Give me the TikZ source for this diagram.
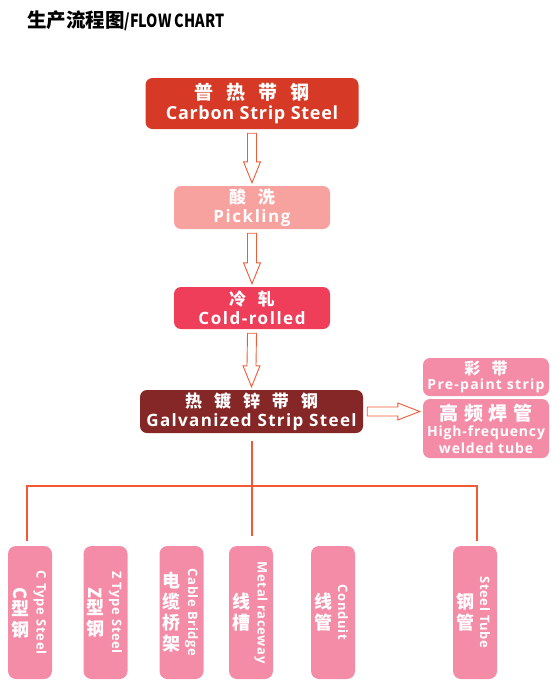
\documentclass[tikz,border=0pt]{standalone}
\usepackage{fontspec}
\usepackage{graphicx}
\setmainfont{Open Sans}
\newfontfamily\cjk{Noto Sans CJK SC}
\usetikzlibrary{calc}

\definecolor{carbonred}{HTML}{D63A26}
\definecolor{picklepink}{HTML}{F7A29F}
\definecolor{coldred}{HTML}{EF3E59}
\definecolor{galvbrown}{HTML}{862727}
\definecolor{productpink}{HTML}{F48CA7}
\definecolor{lineorange}{HTML}{F15A35}

% chinese line: [gap] {size} {text}
\newcommand\cn[3][.7em]{{\cjk\fontsize{#2}{#2}\selectfont\spaceskip=#1\relax #3}}
% english text: {size} {line skip} {letter space}
\newcommand\en[3]{\bfseries\fontsize{#1}{#2}\selectfont\addfontfeature{LetterSpace=#3}}

\newcommand\blockdown[2]{%
\draw [hollow] ($(#1.south)+(-4.5,4)$) -- ($(#2.north)+(-4.5,-24)$) -- ($(#2.north)+(-8.5,-24)$)
 -- ($(#2.north)+(0,-3)$) -- ($(#2.north)+(8.5,-24)$) -- ($(#2.north)+(4.5,-24)$) -- ($(#1.south)+(4.5,4)$) -- cycle;}

\tikzset{
stage/.style={rounded corners=7pt, text=white, align=center, inner sep=0pt},
product/.style={rounded corners=8pt, fill=productpink, minimum width=44, minimum height=133},
cncol/.style={text=white, align=center, inner sep=0pt, font=\cjk\bfseries\fontsize{18}{21}\selectfont},
encol/.style={text=white, rotate=-90, inner sep=0pt, font=\en{13}{15}{5}},
hollow/.style={draw=lineorange, fill=white, line width=0.9pt},
branch/.style={draw=lineorange, line width=2pt}
}

\begin{document}
\begin{tikzpicture}[x=1pt,y=-1pt]
\useasboundingbox (0,0) rectangle (558,694);

\node [anchor=west, inner sep=0pt, font=\cjk\bfseries\fontsize{19.5}{20}\selectfont] (title) at (27,21) {生产流程图{\fontsize{18}{20}\selectfont\scalebox{0.8}[1]{/FLOW CHART}}};

\node [stage, fill=carbonred, minimum width=213, minimum height=51, font=\en{18}{20}{4}] (carbon) at (252,103.5) {\cn{19}{普 热 带 钢}\\Carbon Strip Steel};
\node [stage, fill=picklepink, minimum width=156, minimum height=43, font=\en{17}{19}{9}] (pickling) at (252,207.5) {\cn{17}{酸 洗}\\Pickling};
\node [stage, fill=coldred, minimum width=156, minimum height=42, font=\en{17}{19}{9}] (cold) at (252,308) {\cn{17}{冷 轧}\\Cold-rolled};
\node [stage, fill=galvbrown, minimum width=223, minimum height=43, font=\en{17}{19}{8}] (galv) at (251.5,411.5) {\cn{17}{热 镀 锌 带 钢}\\Galvanized Strip Steel};

\node [stage, fill=productpink, minimum width=126, minimum height=38, font=\en{14}{15}{9}] (prepaint) at (486,377) {\cn{16}{彩 带}\\Pre-paint strip};
\node [stage, fill=productpink, minimum width=126, minimum height=59, font=\en{14}{16.5}{6}] (hfweld) at (486,428.5) {\cn[.3em]{19}{高 频 焊 管}\\High-frequency\\welded tube};

\blockdown{carbon}{pickling}
\blockdown{pickling}{cold}
\blockdown{cold}{galv}
\draw [hollow] ($(galv.east)+(4,-4.5)$) -- ($(galv.east -| hfweld.west)+(-25,-4.5)$) -- ($(galv.east -| hfweld.west)+(-25,-8.5)$)
 -- ($(galv.east -| hfweld.west)+(-3,0)$) -- ($(galv.east -| hfweld.west)+(-25,8.5)$) -- ($(galv.east -| hfweld.west)+(-25,4.5)$) -- ($(galv.east)+(4,4.5)$) -- cycle;

\node [product] (ctype) at (30,612.5) {};
\node [product] (ztype) at (105.5,612.5) {};
\node [product] (cable) at (181.5,612.5) {};
\node [product] (raceway) at (251,612.5) {};
\node [product] (conduit) at (333,612.5) {};
\node [product] (tube) at (475,612.5) {};

\node [cncol] (ctype-cn) at ($(ctype.center)+(-10,0)$) {\rotatebox{-90}{C}\\型\\钢};
\node [encol] (ctype-en) at ($(ctype.center)+(10,0)$) {C Type Steel};
\node [cncol] (ztype-cn) at ($(ztype.center)+(-10,0)$) {\rotatebox{-90}{Z}\\型\\钢};
\node [encol] (ztype-en) at ($(ztype.center)+(10,0)$) {Z Type Steel};
\node [cncol] (cable-cn) at ($(cable.center)+(-10,0)$) {电\\缆\\桥\\架};
\node [encol] (cable-en) at ($(cable.center)+(10,0)$) {Cable Bridge};
\node [cncol] (raceway-cn) at ($(raceway.center)+(-10,0)$) {线\\槽};
\node [encol] (raceway-en) at ($(raceway.center)+(10,0)$) {Metal raceway};
\node [cncol] (conduit-cn) at ($(conduit.center)+(-10,0)$) {线\\管};
\node [encol] (conduit-en) at ($(conduit.center)+(10,0)$) {Conduit};
\node [cncol] (tube-cn) at ($(tube.center)+(-10,0)$) {钢\\管};
\node [encol] (tube-en) at ($(tube.center)+(10,0)$) {Steel Tube};

\coordinate (hub) at ($(galv.south)+(0,53)$);
\draw [branch] ($(galv.south)+(0,8)$) -- ($(galv.south |- raceway.north)+(0,-10)$);
\draw [branch] ($(ctype.north)+(-3,-5)$) |- (hub) -| ($(tube.north)+(2,-5)$);
\end{tikzpicture}
\end{document}
